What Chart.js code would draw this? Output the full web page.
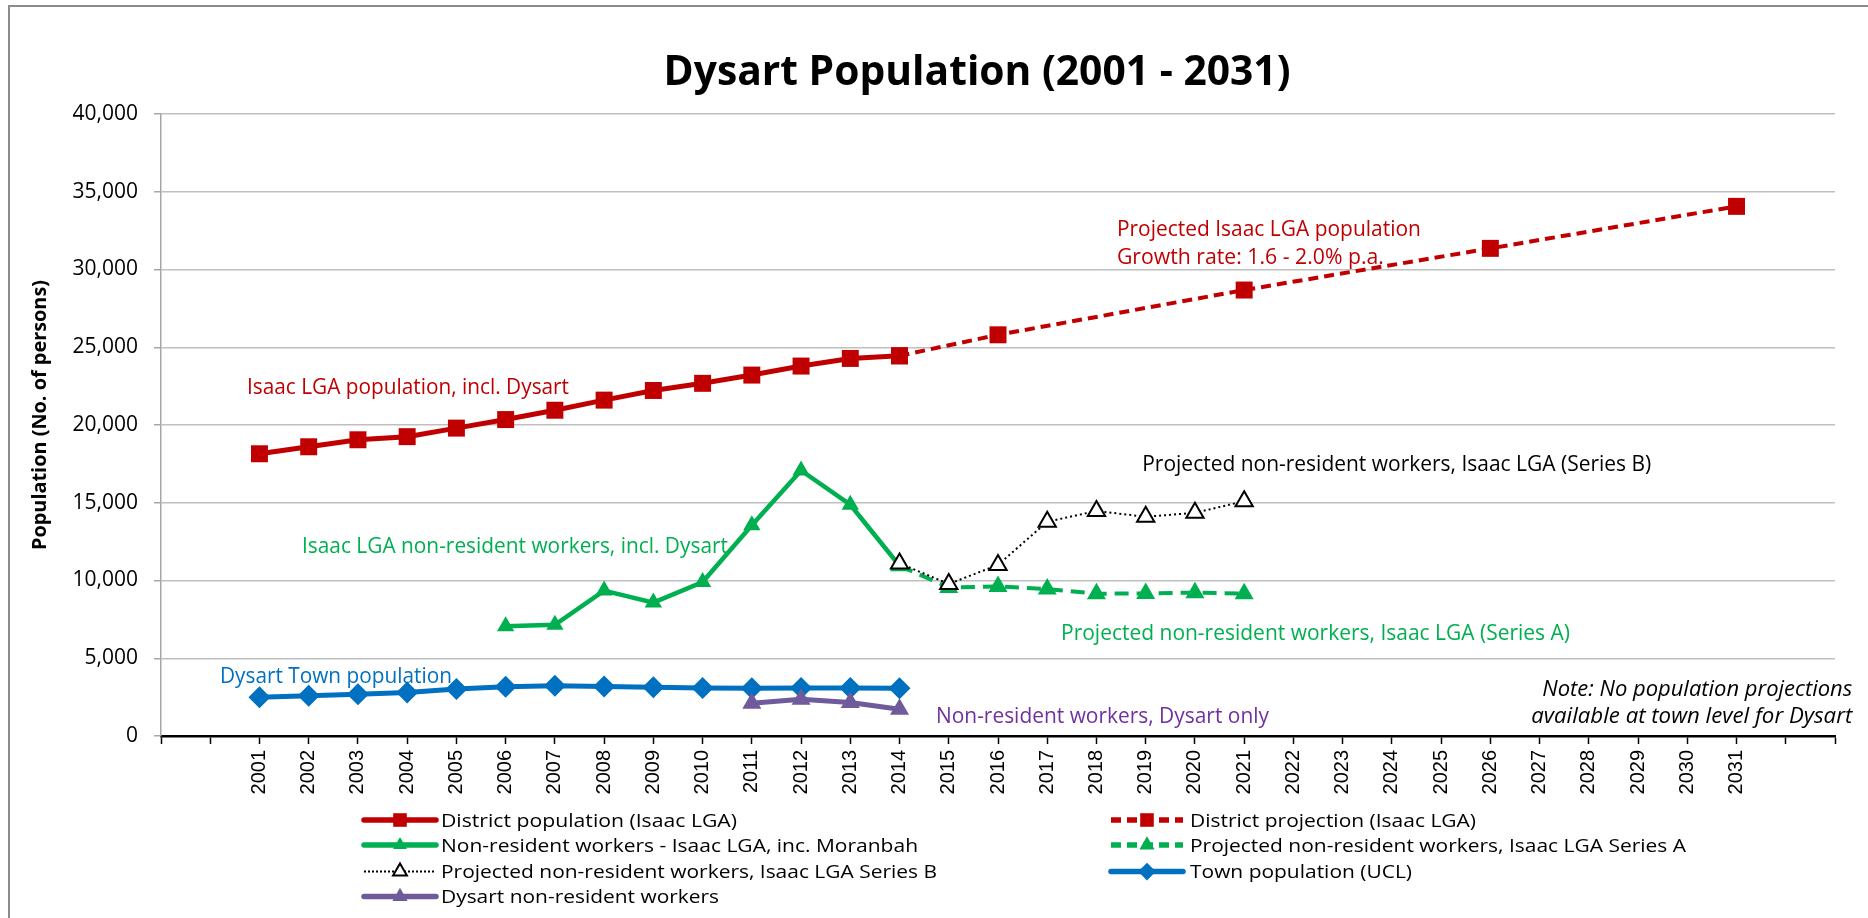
<!DOCTYPE html>
<html><head><meta charset="utf-8">
<script src="https://cdn.jsdelivr.net/npm/chart.js@4.4.1/dist/chart.umd.min.js"></script>
<style>html,body{margin:0;padding:0;background:#fff;overflow:hidden}canvas{display:block}</style>
</head><body>
<canvas id="c" width="1868" height="918" style="width:1868px;height:918px"></canvas>
<script>
// ---------- DATA ----------
const categories = ['', '', '2001', '2002', '2003', '2004', '2005', '2006', '2007', '2008', '2009', '2010',
  '2011', '2012', '2013', '2014', '2015', '2016', '2017', '2018', '2019', '2020', '2021', '2022', '2023',
  '2024', '2025', '2026', '2027', '2028', '2029', '2030', '2031', ' ', '  '];
const yTickValues = [0, 5000, 10000, 15000, 20000, 25000, 30000, 35000, 40000];

const districtYears = ['2001','2002','2003','2004','2005','2006','2007','2008','2009','2010','2011','2012','2013','2014'];
const districtPop   = [18150, 18600, 19050, 19250, 19800, 20350, 20950, 21600, 22220, 22680, 23210, 23790, 24280, 24450];

const projYears = ['2014','2016','2021','2026','2031'];
const projPop   = [24450, 25800, 28680, 31360, 34060];

const nrwYears = ['2006','2007','2008','2009','2010','2011','2012','2013','2014'];
const nrwVals  = [7050, 7150, 9350, 8580, 9900, 13550, 17080, 14870, 10950];

const seriesAYears = ['2014','2015','2016','2017','2018','2019','2020','2021'];
const seriesAVals  = [10950, 9550, 9620, 9450, 9150, 9170, 9220, 9150];

const seriesBYears = ['2014','2015','2016','2017','2018','2019','2020','2021'];
const seriesBVals  = [11100, 9780, 11000, 13780, 14470, 14100, 14350, 15100];

const townYears = ['2001','2002','2003','2004','2005','2006','2007','2008','2009','2010','2011','2012','2013','2014'];
const townPop   = [2490, 2590, 2680, 2800, 3030, 3170, 3230, 3180, 3130, 3090, 3070, 3080, 3080, 3070];

const dysNrwYears = ['2011','2012','2013','2014'];
const dysNrwVals  = [2100, 2360, 2150, 1720];

const seriesNames = [
  'District population (Isaac LGA)',
  'District projection (Isaac LGA)',
  'Non-resident workers - Isaac LGA, inc. Moranbah',
  'Projected non-resident workers, Isaac LGA Series A',
  'Projected non-resident workers, Isaac LGA Series B',
  'Town population (UCL)',
  'Dysart non-resident workers'
];

// ---------- STYLES / LAYOUT ----------
const SANS = "'Open Sans', sans-serif";
const RED = '#C00000', GREEN = '#00B050', BLUE = '#0070C0', PURPLE = '#6F5B9B', TXTPURPLE = '#7030A0';

const pts = (xs, ys) => xs.map((x, i) => ({x: x, y: ys[i]}));

const datasets = [
  {label: seriesNames[0], data: pts(districtYears, districtPop), borderColor: RED, backgroundColor: RED,
   borderWidth: 5, pointStyle: 'rect', pointRadius: 12, pointBorderWidth: 0},
  {label: seriesNames[1], data: pts(projYears, projPop), borderColor: RED, backgroundColor: RED,
   borderWidth: 4, borderDash: [10, 6], pointStyle: 'rect', pointRadius: 12, pointBorderWidth: 0},
  {label: seriesNames[2], data: pts(nrwYears, nrwVals), borderColor: GREEN, backgroundColor: GREEN,
   borderWidth: 4.5, pointStyle: 'triangle', pointRadius: 10, pointBorderWidth: 0},
  {label: seriesNames[3], data: pts(seriesAYears, seriesAVals), borderColor: GREEN, backgroundColor: GREEN,
   borderWidth: 4, borderDash: [14, 8], pointStyle: 'triangle', pointRadius: 11, pointBorderWidth: 0},
  {label: seriesNames[4], data: pts(seriesBYears, seriesBVals), borderColor: '#000', backgroundColor: '#fff',
   borderWidth: 2, borderDash: [2, 3], pointStyle: 'triangle', pointRadius: 10, pointBorderWidth: 2,
   pointBorderColor: '#000', pointBackgroundColor: '#fff'},
  {label: seriesNames[5], data: pts(townYears, townPop), borderColor: BLUE, backgroundColor: BLUE,
   borderWidth: 5, pointStyle: 'rectRot', pointRadius: 11, pointBorderWidth: 0},
  {label: seriesNames[6], data: pts(dysNrwYears, dysNrwVals), borderColor: PURPLE, backgroundColor: PURPLE,
   borderWidth: 5, pointStyle: 'triangle', pointRadius: 11, pointBorderWidth: 0}
];
datasets.forEach((d, i) => { d.order = datasets.length - 1 - i; d.tension = 0; d.fill = false;
  d.pointHoverRadius = d.pointRadius; d.pointBorderColor = d.pointBorderColor || d.borderColor;
  d.pointBackgroundColor = d.pointBackgroundColor || d.backgroundColor; });

// in-chart labels anchored in data space (category index, value at baseline)
const notes = [
  {t: 'Isaac LGA population, incl. Dysart', xi: 1.747, yv: 21994, c: RED, w: 322},
  {t: 'Isaac LGA non-resident workers, incl. Dysart', xi: 2.863, yv: 11749, c: GREEN, w: 426},
  {t: 'Dysart Town population', xi: 1.198, yv: 3387, c: BLUE, w: 232},
  {t: 'Non-resident workers, Dysart only', xi: 15.74, yv: 815, c: TXTPURPLE, w: 333},
  {t: 'Projected Isaac LGA population', xi: 19.415, yv: 32174, c: RED, w: 304},
  {t: 'Growth rate: 1.6 - 2.0% p.a.', xi: 19.415, yv: 30334, c: RED, w: 267},
  {t: 'Projected non-resident workers, Isaac LGA (Series B)', xi: 19.93, yv: 17042, c: '#000', w: 509},
  {t: 'Projected non-resident workers, Isaac LGA (Series A)', xi: 18.28, yv: 6174, c: GREEN, w: 509},
  {t: 'Note: No population projections', xi: 34.35, yv: 2572, c: '#000', w: 310, align: 'right', italic: true},
  {t: 'available at town level for Dysart', xi: 34.35, yv: 815, c: '#000', w: 321, align: 'right', italic: true}
];

// legend layout: dataset index, sample x-range, text x, baseline, text width
const legendItems = [
  {ds: 0, x0: 364, x1: 436, tx: 441, by: 826.7, w: 296},
  {ds: 1, x0: 1111, x1: 1183, tx: 1190, by: 826.7, w: 286},
  {ds: 2, x0: 364, x1: 436, tx: 441, by: 851.7, w: 477},
  {ds: 3, x0: 1111, x1: 1183, tx: 1190, by: 851.7, w: 496},
  {ds: 4, x0: 364, x1: 436, tx: 441, by: 878.3, w: 496},
  {ds: 5, x0: 1111, x1: 1183, tx: 1190, by: 878.3, w: 222},
  {ds: 6, x0: 364, x1: 436, tx: 441, by: 903.3, w: 278}
];

function fitText(ctx, text, x, y, font, color, width, align) {
  ctx.save();
  ctx.font = font;
  ctx.fillStyle = color;
  ctx.textBaseline = 'alphabetic';
  const m = ctx.measureText(text).width;
  const s = width ? width / m : 1;
  ctx.translate(x, y);
  ctx.scale(s, 1);
  ctx.textAlign = align || 'left';
  ctx.fillText(text, 0, 0);
  ctx.restore();
}

function marker(ctx, style, r, cx, cy, fill, stroke, bw) {
  ctx.save();
  ctx.beginPath();
  if (style === 'rect') {
    const h = Math.SQRT1_2 * r;
    ctx.rect(cx - h, cy - h, 2 * h, 2 * h);
  } else if (style === 'rectRot') {
    ctx.moveTo(cx - r, cy); ctx.lineTo(cx, cy - r); ctx.lineTo(cx + r, cy); ctx.lineTo(cx, cy + r); ctx.closePath();
  } else {
    for (let k = 0; k < 3; k++) {
      const a = k * 2 * Math.PI / 3;
      const px = cx + Math.sin(a) * r, py = cy - Math.cos(a) * r;
      if (k === 0) ctx.moveTo(px, py); else ctx.lineTo(px, py);
    }
    ctx.closePath();
  }
  ctx.fillStyle = fill; ctx.fill();
  if (bw) { ctx.setLineDash([]); ctx.lineWidth = bw; ctx.strokeStyle = stroke; ctx.stroke(); }
  ctx.restore();
}

const decor = {
  id: 'decor',
  beforeDraw(chart) {
    const ctx = chart.ctx;
    ctx.save(); ctx.fillStyle = '#fff'; ctx.fillRect(0, 0, chart.width, chart.height); ctx.restore();
  },
  afterDraw(chart) {
    const ctx = chart.ctx, xs = chart.scales.x, ys = chart.scales.y;
    // frame
    ctx.save(); ctx.strokeStyle = '#8c8c8c'; ctx.lineWidth = 2; ctx.strokeRect(9, 6, 2000, 2000); ctx.restore();
    // title
    fitText(ctx, 'Dysart Population (2001 - 2031)', 977, 85, "bold 42px " + SANS, '#000', 627, 'center');
    // y-axis title
    ctx.save(); ctx.translate(45.5, 415); ctx.rotate(-Math.PI / 2);
    fitText(ctx, 'Population (No. of persons)', 0, 0, "bold 19px " + SANS, '#000', 270, 'center');
    ctx.restore();
    // notes
    notes.forEach(n => {
      const px = xs.getPixelForValue(n.xi), py = ys.getPixelForValue(n.yv);
      fitText(ctx, n.t, px, py, (n.italic ? 'italic ' : '') + '21px ' + SANS, n.c, n.w, n.align || 'left');
    });
    // legend
    legendItems.forEach(it => {
      const d = chart.data.datasets[it.ds];
      const cy = it.by - 6.7;
      ctx.save();
      ctx.strokeStyle = d.borderColor;
      ctx.lineWidth = d.borderWidth >= 4 ? 5.5 : d.borderWidth;
      ctx.lineCap = d.borderDash ? 'butt' : 'round';
      ctx.setLineDash(d.borderDash ? (d.borderWidth >= 4 ? [10, 6] : [2, 2]) : []);
      ctx.beginPath(); ctx.moveTo(it.x0, cy); ctx.lineTo(it.x1, cy); ctx.stroke();
      ctx.restore();
      marker(ctx, d.pointStyle, d.pointRadius * 0.8, (it.x0 + it.x1) / 2, cy,
        d.pointBackgroundColor, d.pointBorderColor, d.pointBorderWidth);
      fitText(ctx, d.label, it.tx, it.by, '19px ' + SANS, '#000', it.w, 'left');
    });
  }
};

new Chart(document.getElementById('c'), {
  type: 'line',
  data: {labels: categories, datasets: datasets},
  options: {
    responsive: false, animation: false, devicePixelRatio: 1,
    layout: {padding: {top: 114, right: 33, bottom: 120, left: 0}},
    plugins: {legend: {display: false}, tooltip: {enabled: false}, title: {display: false}},
    scales: {
      x: {
        type: 'category', offset: false,
        grid: {display: true, drawOnChartArea: false, drawTicks: true, tickLength: 8, tickColor: '#000', tickWidth: 1.5},
        border: {display: true, color: '#000', width: 2.5},
        ticks: {autoSkip: false, maxRotation: 90, minRotation: 90, padding: 6, color: '#000',
                font: {family: "'Liberation Sans', Arial, sans-serif", size: 20}},
        afterFit(s) { s.height = 62; }
      },
      y: {
        min: 0, max: 40000,
        afterBuildTicks(s) { s.ticks = yTickValues.map(v => ({value: v})); },
        grid: {color: '#BFBFBF', lineWidth: 1.5, drawTicks: true, tickLength: 7, tickColor: '#A6A6A6'},
        border: {display: true, color: '#A6A6A6', width: 1.5},
        ticks: {padding: 16, color: '#000', font: {family: SANS, size: 21},
                callback: v => Number(v).toLocaleString('en-US')},
        afterFit(s) { s.width = 161; }
      }
    }
  },
  plugins: [decor]
});
</script>
</body></html>
